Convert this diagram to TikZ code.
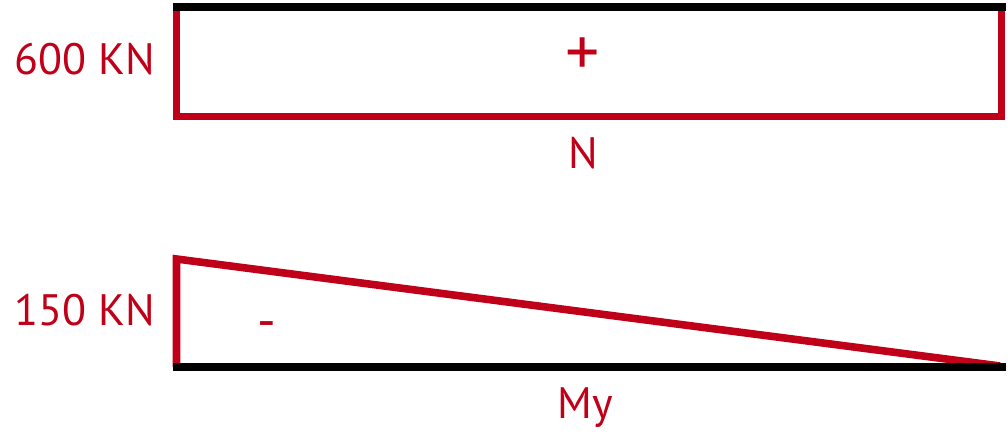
\documentclass[tikz,border=0pt]{standalone}
\usepackage{fontspec}
\setmainfont{PT Sans}
\definecolor{dred}{RGB}{192,0,24}
\begin{document}
\begin{tikzpicture}[x=0.5pt,y=-0.5pt,
  redline/.style={draw=dred,line width=3.8pt,line join=miter},
  blackline/.style={draw=black,line width=4pt,line cap=butt},
  lbl/.style={text=dred,font=\fontsize{22}{26}\selectfont,inner sep=0pt}]
\useasboundingbox (0,0) rectangle (1008,432);
% top diagram N
\coordinate (a1) at (176.5,7);
\coordinate (a2) at (176.5,116.5);
\coordinate (a3) at (1001.5,116.5);
\coordinate (a4) at (1001.5,7);
\draw[redline] (a1) -- (a2) -- (a3) -- (a4);
\coordinate (b1) at (173,7);
\coordinate (b2) at (1006,7);
\draw[blackline] (b1) -- (b2);
\node[lbl] (v1) at (85,59) {600 KN};
\node[lbl,font=\fontsize{34}{38}\selectfont] (plus) at (583,57) {+};
\node[lbl] (nlbl) at (583,153) {N};
% bottom diagram My
\coordinate (c1) at (176.5,367);
\coordinate (c2) at (176.5,259);
\coordinate (c3) at (1000,366);
\draw[redline] (c1) -- (c2) -- (c3);
\coordinate (d1) at (173,367);
\coordinate (d2) at (1006,367);
\draw[blackline] (d1) -- (d2);
\node[lbl] (v2) at (85,310) {150 KN};
\node[lbl,font=\fontsize{26}{30}\selectfont] (minus) at (267,330) {-};
\node[lbl] (mylbl) at (585,408) {My};
\end{tikzpicture}
\end{document}
